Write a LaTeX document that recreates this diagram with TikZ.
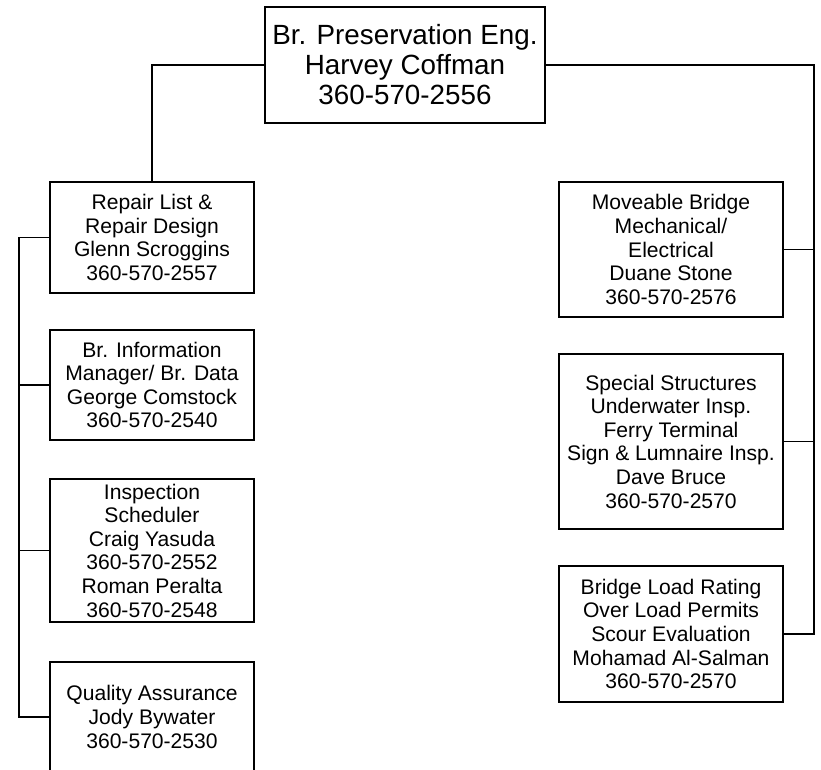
\documentclass[tikz,border=0pt]{standalone}
\usepackage{fontspec}
\setmainfont{Liberation Sans}
\begin{document}
\begin{tikzpicture}[x=1pt,y=-1pt,line width=1.5pt,
  unitbox/.style={draw,align=center,inner sep=0pt,font=\fontsize{21.1}{23.6}\selectfont},
  headbox/.style={draw,align=center,inner sep=0pt,font=\fontsize{27.8}{30}\selectfont,minimum width=280pt,minimum height=116pt},
  leftbox/.style={unitbox,minimum width=204pt},
  rightbox/.style={unitbox,minimum width=224pt}]
 \useasboundingbox (0,0) rectangle (821,770);
 \node[headbox] (head) at (405,65) {Br. Preservation Eng.\\Harvey Coffman\\360-570-2556};

 \node[leftbox,minimum height=111pt] (repair) at (152,237.5) {Repair List \&\\Repair Design\\Glenn Scroggins\\360-570-2557};
 \node[leftbox,minimum height=110pt] (info) at (152,385) {Br. Information\\Manager/ Br. Data\\George Comstock\\360-570-2540};
 \node[leftbox,minimum height=143pt] (insp) at (152,550.5) {Inspection\\Scheduler\\Craig Yasuda\\360-570-2552\\Roman Peralta\\360-570-2548};
 \node[leftbox,minimum height=110pt] (quality) at (152,717) {Quality Assurance\\Jody Bywater\\360-570-2530};

 \node[rightbox,minimum height=135pt] (moveable) at (671,249.5) {Moveable Bridge\\Mechanical/\\Electrical\\Duane Stone\\360-570-2576};
 \node[rightbox,minimum height=175pt] (special) at (671,441.5) {Special Structures\\Underwater Insp.\\Ferry Terminal\\Sign \& Lumnaire Insp.\\Dave Bruce\\360-570-2570};
 \node[rightbox,minimum height=136pt] (loadrating) at (671,634) {Bridge Load Rating\\Over Load Permits\\Scour Evaluation\\Mohamad Al-Salman\\360-570-2570};

 \coordinate (lspine) at (19,0);
 \coordinate (rspine) at (814,0);

 \draw (head.west) -| (repair.north);
 \draw (head.east) -- (head.east -| rspine) |- (loadrating.east);
 \draw (moveable.east) -- (moveable.east -| rspine);
 \draw (special.east) -- (special.east -| rspine);

 \draw (repair.west) -- (repair.west -| lspine) |- (quality.west);
 \draw (info.west) -- (info.west -| lspine);
 \draw (insp.west) -- (insp.west -| lspine);
\end{tikzpicture}
\end{document}
